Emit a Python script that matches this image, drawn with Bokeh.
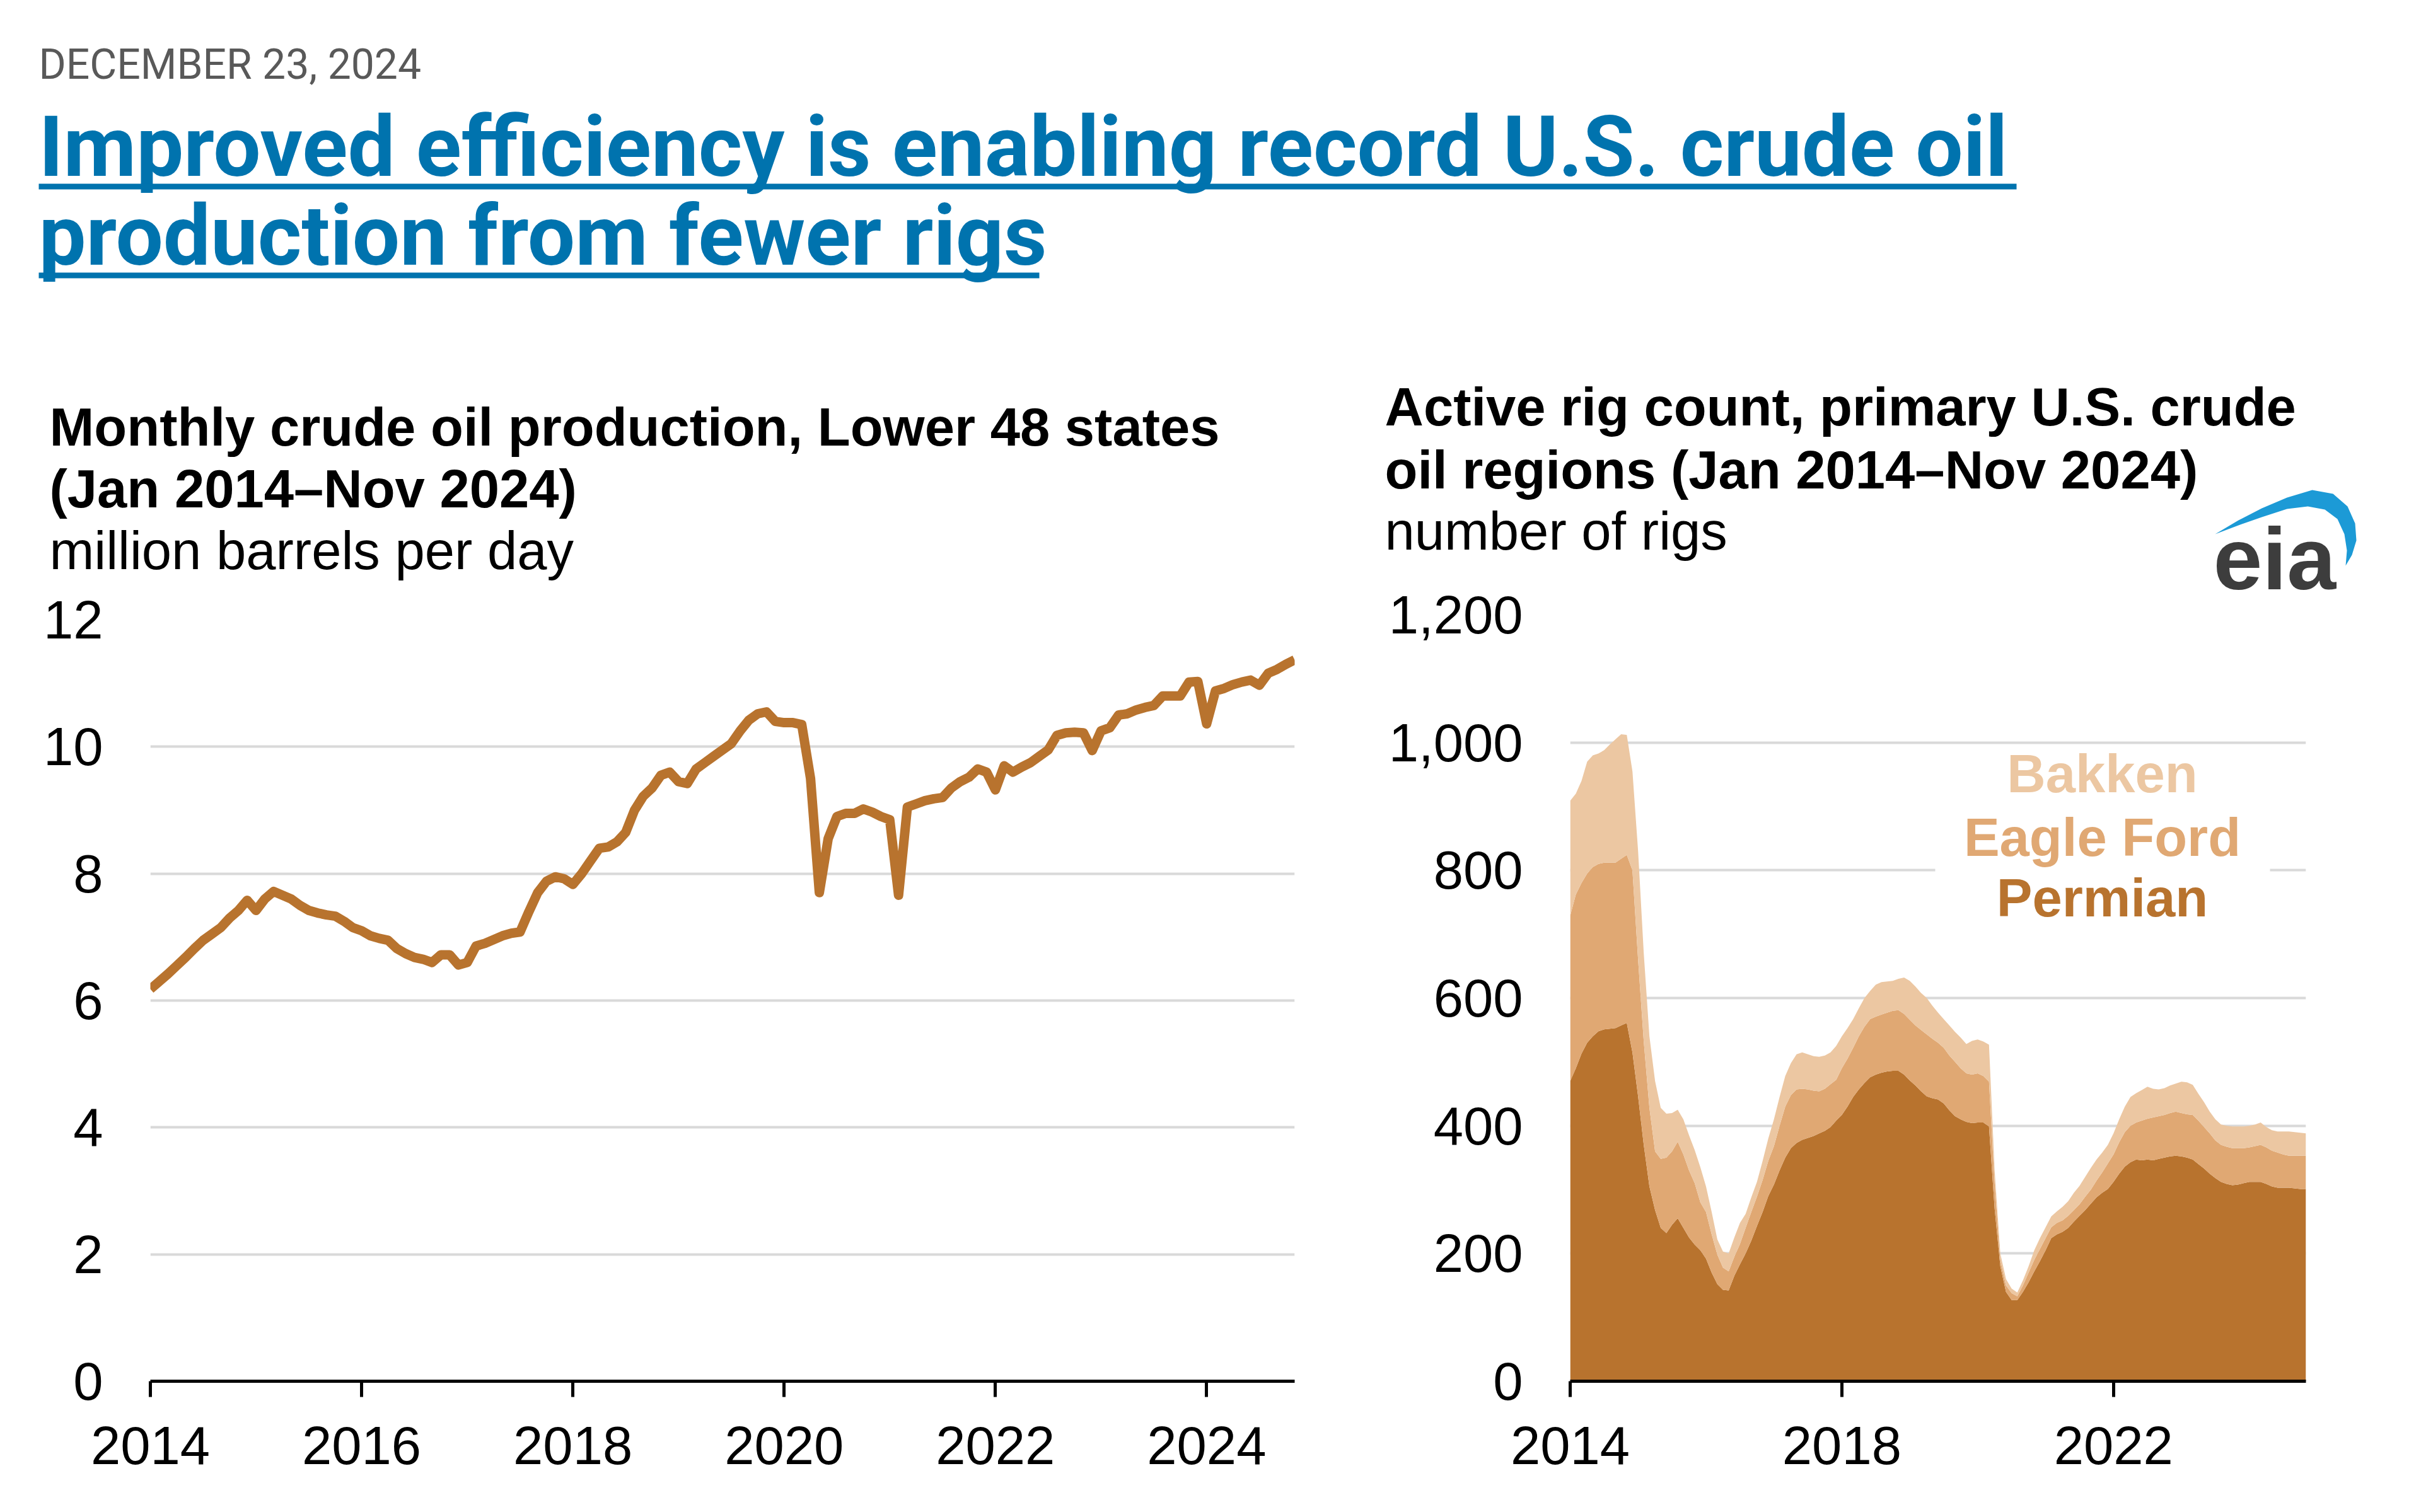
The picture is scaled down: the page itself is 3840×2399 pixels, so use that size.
import pandas as pd
from bokeh.plotting import figure
from bokeh.models import (Range1d, FixedTicker, Label, BoxAnnotation, PolyAnnotation,
                          NumeralTickFormatter, ColumnDataSource)
from bokeh.layouts import column, row
from bokeh.embed import file_html
from bokeh.resources import INLINE

# ---------------- data ----------------
months = pd.date_range("2014-01-01", "2024-11-01", freq="MS")

production = [
    6.18, 6.30, 6.42, 6.55, 6.68, 6.82, 6.95, 7.05, 7.15, 7.30, 7.42, 7.58,
    7.42, 7.60, 7.72, 7.66, 7.60, 7.50, 7.42, 7.38, 7.35, 7.33, 7.25, 7.15,
    7.10, 7.02, 6.98, 6.95, 6.82, 6.74, 6.68, 6.65, 6.60, 6.72, 6.72, 6.56,
    6.60, 6.86, 6.90, 6.96, 7.02, 7.06, 7.08, 7.40, 7.70, 7.88, 7.95, 7.92,
    7.83, 8.00, 8.20, 8.40, 8.42, 8.50, 8.65, 9.00, 9.22, 9.35, 9.55, 9.60,
    9.45, 9.42, 9.65, 9.75, 9.85, 9.95, 10.05, 10.25, 10.42, 10.52, 10.55, 10.40,
    10.38, 10.38, 10.35, 9.50, 7.70, 8.55, 8.90, 8.95, 8.95, 9.02, 8.97, 8.90,
    8.85, 7.66, 9.05, 9.10, 9.15, 9.18, 9.20, 9.35, 9.45, 9.52, 9.65, 9.60,
    9.32, 9.70, 9.60, 9.68, 9.75, 9.85, 9.95, 10.18, 10.22, 10.23, 10.22, 9.94,
    10.25, 10.30, 10.50, 10.52, 10.58, 10.62, 10.65, 10.80, 10.80, 10.80, 11.02, 11.03,
    10.36, 10.88, 10.92, 10.98, 11.02, 11.05, 10.97, 11.16, 11.22, 11.30, 11.37,
]

permian = [
    470, 490, 513, 530, 540, 548, 551, 552, 553, 557, 561, 515,
    446, 370, 305, 268, 240, 232, 245, 255, 240, 225, 214, 205,
    192, 170, 152, 143, 142, 165, 183, 200, 220, 243, 265, 290,
    308, 330, 350, 365, 373, 378, 381, 384, 388, 392, 398, 408,
    417, 430, 445, 457, 467, 476, 480, 483, 485, 486, 486, 480,
    471, 463, 454, 446, 443, 441, 435, 424, 415, 410, 406, 404,
    405, 405, 399, 270, 180, 140, 127, 127, 140, 155, 172, 188,
    205, 224, 230, 234, 240, 250, 259, 268, 278, 288, 295, 301,
    312, 325, 336, 343, 347, 346, 347, 346, 348, 350, 352, 353,
    352, 350, 347, 340, 333, 325, 318, 312, 309, 307, 308, 310,
    312, 312, 312, 309, 305, 303, 303, 303, 302, 301, 301,
]

eagle_ford = [
    259, 272, 267, 265, 265, 262, 261, 260, 259, 261, 263, 285,
    214, 162, 123, 92, 108, 118, 115, 120, 115, 105, 96, 75,
    73, 60, 46, 35, 30, 30, 32, 40, 45, 46, 50, 55,
    60, 70, 80, 83, 84, 80, 76, 71, 66, 66, 67, 64,
    73, 75, 77, 83, 88, 91, 91, 91, 92, 94, 95, 95,
    95, 94, 96, 97, 93, 89, 87, 86, 85, 80, 76, 76,
    77, 73, 70, 40, 10, 10, 11, 6, 10, 15, 18, 19,
    19, 17, 18, 18, 19, 18, 18, 21, 22, 26, 32, 40,
    43, 49, 54, 57, 58, 62, 64, 67, 67, 67, 68, 69,
    68, 68, 70, 68, 65, 63, 59, 58, 58, 58, 57, 55,
    54, 56, 58, 57, 56, 55, 52, 50, 51, 52, 52,
]

bakken = [
    180, 158, 160, 175, 175, 173, 176, 185, 193, 195, 188, 155,
    170, 138, 112, 110, 80, 69, 60, 50, 55, 55, 52, 55,
    40, 35, 24, 25, 28, 30, 33, 22, 23, 23, 30, 35,
    42, 45, 48, 50, 55, 57, 55, 54, 54, 52, 50, 53,
    50, 48, 45, 44, 45, 44, 50, 51, 49, 47, 49, 57,
    61, 61, 58, 57, 52, 47, 45, 47, 47, 48, 46, 53,
    53, 54, 58, 20, 10, 10, 7, 6, 8, 10, 15, 17,
    17, 17, 18, 21, 23, 27, 29, 31, 34, 33, 31, 29,
    33, 36, 40, 45, 46, 48, 50, 45, 42, 42, 43, 44,
    49, 50, 47, 42, 39, 34, 33, 32, 33, 34, 34, 34,
    34, 34, 35, 32, 32, 33, 36, 38, 37, 36, 35,
]

left_x_ticks = [2014, 2016, 2018, 2020, 2022, 2024]
left_y_ticks = [0, 2, 4, 6, 8, 10, 12]
right_x_ticks = [2014, 2018, 2022]
right_y_ticks = [0, 200, 400, 600, 800, 1000, 1200]
region_names = ["Permian", "Eagle Ford", "Bakken"]

# ---------------- styling ----------------
COPPER = "#B8732E"
EF_COL = "#E0A873"
BK_COL = "#ECC7A2"
BLUE = "#0073AE"
GRID = "#D9D9D9"
FONT = "Liberation Sans"
HFONT = "Roboto"
# Bokeh places an "alphabetic" label lower than its y; shift by this fraction of size
BASE_SHIFT = {FONT: 0.386, HFONT: 0.40}

x_years = [d.year + (d.month - 1) / 12 for d in months]
X0, X1 = x_years[0], x_years[-1]

src = ColumnDataSource(dict(x=x_years, prod=production, permian=permian,
                            eagle_ford=eagle_ford, bakken=bakken))

# page geometry (pixels, canvas coordinates)
TOTAL_W = 3824
HDR_H = 972          # header canvas height (holds all text above the charts)
ROW_TOP = 905        # charts row starts here (overlaps header's transparent bottom strip)
ROW_H = 2391 - ROW_TOP
P1 = dict(page_left=0, width=2142, L=238, R=2053, T=983, B=2191)
P2 = dict(page_left=2142, width=1682, L=2490, R=3657, T=975, B=2191)


def make_fig(geo, ymax):
    p = figure(width=geo["width"], height=ROW_H, title=None,
               x_range=Range1d(X0, X1), y_range=Range1d(0, ymax),
               toolbar_location=None, output_backend="svg",
               min_border_left=geo["L"] - geo["page_left"],
               min_border_right=geo["page_left"] + geo["width"] - geo["R"],
               min_border_top=geo["T"] - ROW_TOP,
               min_border_bottom=ROW_TOP + ROW_H - geo["B"])
    if "frame_align" in p.properties():
        p.frame_align = False          # keep each chart's own frame geometry
    p.border_fill_color = None
    p.outline_line_color = None
    p.xgrid.visible = False
    p.ygrid.grid_line_color = GRID
    p.ygrid.grid_line_width = 4
    p.yaxis.axis_line_color = None
    p.yaxis.major_tick_line_color = None
    p.yaxis.minor_tick_line_color = None
    p.yaxis.major_tick_out = 0
    p.yaxis.major_tick_in = 0
    p.yaxis.major_label_standoff = 75
    p.xaxis.axis_line_color = "black"
    p.xaxis.axis_line_width = 5
    p.xaxis.major_tick_line_color = "black"
    p.xaxis.major_tick_line_width = 5
    p.xaxis.major_tick_out = 25
    p.xaxis.major_tick_in = 0
    p.xaxis.minor_tick_line_color = None
    p.xaxis.major_label_standoff = 47
    for ax in (p.xaxis, p.yaxis):
        ax.major_label_text_font = FONT
        ax.major_label_text_font_size = "85px"
        ax.major_label_text_color = "black"
    return p


def to_data(geo, ymax, px, py):
    x = X0 + (px - geo["L"]) / (geo["R"] - geo["L"]) * (X1 - X0)
    y = (geo["B"] - py) / (geo["B"] - geo["T"]) * ymax
    return x, y


def label(px, py, text, size=85, bold=False, color="black", align="left", font=FONT):
    """Label positioned by its baseline in page pixels."""
    return dict(text=text, text_font=font, text_font_size=f"{size}px",
                text_font_style="bold" if bold else "normal",
                text_color=color, text_align=align, text_baseline="alphabetic"), \
        px, py - BASE_SHIFT[font] * size


# ---------------- header (page pixel coordinates) ----------------
hdr = figure(width=TOTAL_W, height=HDR_H, x_range=Range1d(0, TOTAL_W),
             y_range=Range1d(HDR_H, 0), x_axis_location=None,
             y_axis_location=None, toolbar_location=None,
             output_backend="svg", min_border=0,
             margin=(0, 0, ROW_TOP - HDR_H, 0))
hdr.outline_line_color = None
hdr.grid.visible = False


def hdr_text(*args, **kw):
    props, x, y = label(*args, **kw)
    hdr.add_layout(Label(x=x, y=y, **props))


hdr_text(61, 128, "DECEMBER 23, 2024", size=66, color="#595959", font=HFONT)
for yb, txt, x_end in [(286, "Improved efficiency is enabling record U.S. crude oil", 3198),
                       (427, "production from fewer rigs", 1648)]:
    hdr_text(61, yb, txt, size=133.5, bold=True, color=BLUE, font=HFONT)
    hdr.add_layout(BoxAnnotation(left=61, right=x_end, top=yb + 5, bottom=yb + 14,
                                 fill_color=BLUE, fill_alpha=1, line_color=None))

hdr_text(78, 710, "Monthly crude oil production, Lower 48 states", bold=True)
hdr_text(78, 808, "(Jan 2014\u2013Nov 2024)", bold=True)
hdr_text(78, 906, "million barrels per day")
hdr_text(2196, 678, "Active rig count, primary U.S. crude", bold=True)
hdr_text(2196, 778, "oil regions (Jan 2014\u2013Nov 2024)", bold=True)
hdr_text(2196, 875, "number of rigs")

# eia logo (blue swoosh + wordmark)
arc_px = [3513, 3550, 3587, 3627, 3667, 3700, 3723, 3735, 3737, 3730, 3720,
          3722, 3718, 3707, 3687, 3660, 3627, 3587, 3550]
arc_py = [847, 825, 806, 789, 777, 783, 803, 830, 857, 880, 897,
          873, 847, 823, 808, 803, 807, 820, 833]
hdr.add_layout(PolyAnnotation(xs=arc_px, ys=arc_py, fill_color="#1C9AD6",
                              fill_alpha=1, line_color=None))
hdr_text(3510, 940, "eia", size=140, bold=True, color="#3D3D3D")

# ---------------- left chart ----------------
p1 = make_fig(P1, 12)
p1.xaxis.ticker = FixedTicker(ticks=left_x_ticks)
p1.yaxis.ticker = FixedTicker(ticks=left_y_ticks)
p1.line(x="x", y="prod", source=src, line_color=COPPER, line_width=15,
        line_join="round")

# ---------------- right chart ----------------
p2 = make_fig(P2, 1200)
p2.xaxis.ticker = FixedTicker(ticks=right_x_ticks)
p2.yaxis.ticker = FixedTicker(ticks=right_y_ticks)
p2.yaxis.formatter = NumeralTickFormatter(format="0,0")
p2.varea_stack(["permian", "eagle_ford", "bakken"], x="x", source=src,
               color=[COPPER, EF_COL, BK_COL])
bx0, by0 = to_data(P2, 1200, 3069, 1185)
bx1, by1 = to_data(P2, 1200, 3600, 1480)
p2.add_layout(BoxAnnotation(left=bx0, right=bx1, top=by0, bottom=by1,
                            fill_color="white", fill_alpha=1, line_color=None))
for py, name, col in [(1260, region_names[2], BK_COL), (1361, region_names[1], EF_COL),
                      (1457, region_names[0], COPPER)]:
    props, lx, ly = label(3334, py, name, bold=True, color=col, align="center")
    dx, dy = to_data(P2, 1200, lx, ly)
    p2.add_layout(Label(x=dx, y=dy, **props))

layout = column(hdr, row(p1, p2))
open("out.html", "w").write(file_html(layout, INLINE))
